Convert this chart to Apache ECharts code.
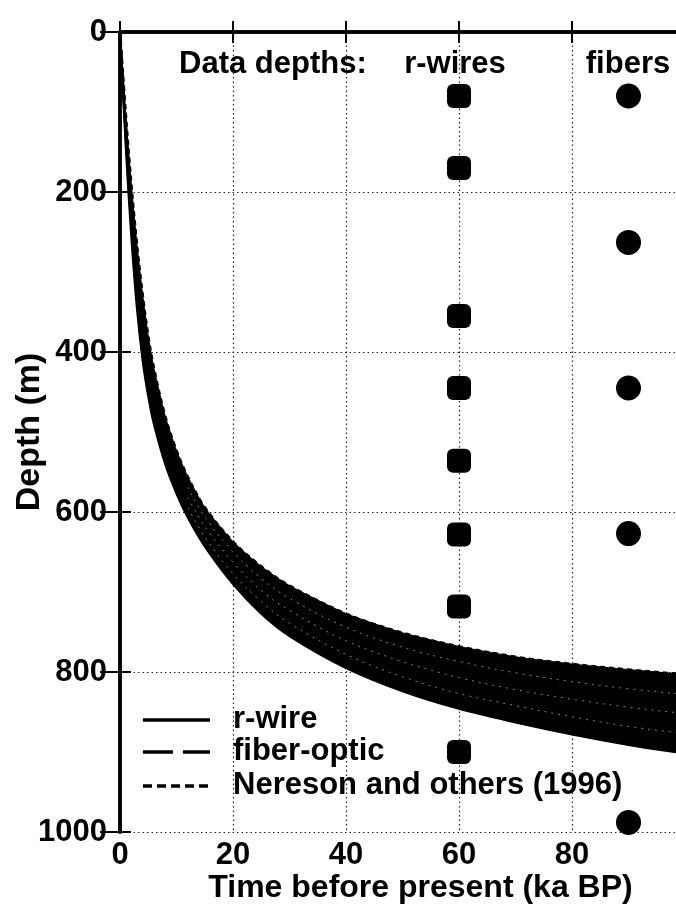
<!DOCTYPE html>
<html><head><meta charset="utf-8">
<script src="https://cdn.jsdelivr.net/npm/echarts@6/dist/echarts.min.js"></script>
<style>html,body{margin:0;padding:0;background:#fff}#c{width:676px;height:911px}</style>
</head><body><div id="c"></div>
<script>
// ---- data ----
const ages      = [0, 1, 2, 3, 4, 5, 6, 8, 10, 12, 15, 20, 25, 30, 40, 50, 60, 70, 80, 90, 100, 105];
const nereson   = [0, 100, 190, 265, 328, 380, 420, 480, 523, 556, 594, 637, 668, 692, 727, 751, 768, 781, 790, 797, 803, 806];
const fiberB    = [0, 110, 206, 285, 348, 399, 437, 495, 537, 569, 606, 650, 683, 708, 744, 769, 787, 801, 812, 821, 828, 831];
const fiberA    = [0, 120, 222, 305, 369, 418, 455, 510, 550, 582, 618, 663, 698, 723, 761, 787, 807, 822, 834, 844, 852, 856];
const rwireMid  = [0, 130, 238, 325, 390, 437, 473, 525, 564, 595, 631, 677, 712, 739, 778, 806, 827, 842, 856, 868, 877, 881];
const rwireDeep = [0, 140, 255, 345, 410, 455, 490, 540, 577, 607, 643, 690, 727, 755, 795, 824, 846, 863, 878, 891, 902, 907];

const rwireAge = 60;
const rwireDepths = [80, 170, 355, 445, 536, 628, 718, 900];
const fiberAge = 90;
const fiberDepths = [80, 263, 445, 627, 988];

const xTicks = [0, 20, 40, 60, 80];
const yTicks = [0, 200, 400, 600, 800, 1000];

const legendNames = ['r-wire', 'fiber-optic', 'Nereson and others (1996)'];
const headerTexts = ['Data depths:', 'r-wires', 'fibers'];

// ---- chart ----
const FONT = '"Liberation Sans", Arial, Helvetica, sans-serif';
const pairs = (ys, minAge) => ages.map((a, i) => [a, ys[i]]).filter(p => p[0] >= (minAge || 0));

const chart = echarts.init(document.getElementById('c'), null, {renderer: 'canvas'});

const axisLineStyle = {color: '#000', width: 3.5};
const gridDots = {type: [1.5, 3], color: '#222', width: 1.2};
const labelStyle = {color: '#000', fontFamily: FONT, fontWeight: 'bold', fontSize: 31};

const dashSolid = null, dashFiber = [30, 10], dashNereson = [9, 5];

function lineSeries(name, ys, dash, width) {
  return {
    name: name, type: 'line', data: pairs(ys), smooth: 0.35, symbol: 'none',
    xAxisIndex: 0, yAxisIndex: 0, z: 4, silent: true,
    lineStyle: {color: '#000', width: width, type: dash || 'solid'}
  };
}
function gapSeries(ys) {
  return {
    type: 'line', data: pairs(ys, 12), smooth: 0.35, symbol: 'none', z: 5, silent: true,
    lineStyle: {color: '#fff', width: 0.9, type: [2, 5], opacity: 0.55}
  };
}

// hand-drawn legend, like the original figure
const legendRowsY = [720, 752, 786];
const legendDash = [dashSolid, dashFiber, dashNereson];
const legendGraphics = [];
legendNames.forEach((nm, i) => {
  legendGraphics.push({type: 'line', shape: {x1: 143, y1: legendRowsY[i], x2: 210, y2: legendRowsY[i]},
    style: {stroke: '#000', lineWidth: 3.5, lineDash: legendDash[i]}, silent: true, z: 10});
  legendGraphics.push({type: 'text', x: 233, y: legendRowsY[i] - 1,
    style: {text: nm, fill: '#000', font: 'bold 31px ' + FONT, verticalAlign: 'middle', align: 'left'}, silent: true, z: 10});
});

const headerGraphics = [
  {type: 'text', x: 179, y: 64, style: {text: headerTexts[0], fill: '#000', font: 'bold 31px ' + FONT, verticalAlign: 'middle', align: 'left'}, z: 10},
  {type: 'text', x: 455, y: 64, style: {text: headerTexts[1], fill: '#000', font: 'bold 31px ' + FONT, verticalAlign: 'middle', align: 'center'}, z: 10},
  {type: 'text', x: 628, y: 64, style: {text: headerTexts[2], fill: '#000', font: 'bold 31px ' + FONT, verticalAlign: 'middle', align: 'center'}, z: 10}
];

const option = {
  animation: false,
  backgroundColor: '#fff',
  grid: {left: 120, top: 32, right: -9, bottom: 79, containLabel: false, outerBoundsMode: 'none'},
  xAxis: [{
    type: 'value', min: 0, max: 100, interval: 20, position: 'bottom',
    axisLine: {lineStyle: axisLineStyle},
    axisTick: {inside: true, length: 11, lineStyle: {color: '#000', width: 2}},
    axisLabel: Object.assign({margin: 8, showMaxLabel: false,
      formatter: v => xTicks.indexOf(v) >= 0 ? String(v) : ''}, labelStyle),
    splitLine: {show: true, lineStyle: gridDots},
    name: 'Time before present (ka BP)', nameLocation: 'middle', nameGap: 40, nameMoveOverlap: false,
    nameTextStyle: {color: '#000', fontFamily: FONT, fontWeight: 'bold', fontSize: 32,
      verticalAlign: 'top', padding: [0, 0, 0, 36]}
  }, {
    type: 'value', min: 0, max: 100, interval: 20, position: 'top',
    axisLine: {lineStyle: axisLineStyle},
    axisTick: {inside: true, length: 11, lineStyle: {color: '#000', width: 2}},
    axisLabel: {show: false}, splitLine: {show: false}
  }],
  yAxis: [{
    type: 'value', inverse: true, min: 0, max: 1000, interval: 200, position: 'left',
    axisLine: {lineStyle: axisLineStyle},
    axisTick: {inside: true, length: 11, lineStyle: {color: '#000', width: 2}},
    axisLabel: Object.assign({margin: 13,
      formatter: v => yTicks.indexOf(v) >= 0 ? String(v) : ''}, labelStyle),
    splitLine: {show: true, lineStyle: gridDots},
    name: 'Depth (m)', nameLocation: 'middle', nameGap: 73, nameRotate: 90, nameMoveOverlap: false,
    nameTextStyle: {color: '#000', fontFamily: FONT, fontWeight: 'bold', fontSize: 34}
  }, {
    type: 'value', inverse: true, min: 0, max: 1000, interval: 200, position: 'right',
    axisLine: {lineStyle: axisLineStyle},
    axisTick: {inside: true, length: 20, lineStyle: {color: '#000', width: 2}},
    axisLabel: {show: false}, splitLine: {show: false}
  }],
  graphic: headerGraphics.concat(legendGraphics),
  series: [
    {
      name: 'band', type: 'custom', data: [[0, 0]], z: 3, silent: true, clip: true,
      renderItem: function (params, api) {
        const top = nereson.map((d, i) => api.coord([ages[i], d]));
        const bot = rwireDeep.map((d, i) => api.coord([ages[i], d])).reverse();
        return {type: 'polygon', shape: {points: top.concat(bot), smooth: 0.2},
                style: {fill: '#000', stroke: '#000', lineWidth: 1}};
      }
    },
    lineSeries(legendNames[0], rwireDeep, dashSolid, 2.2),
    lineSeries(legendNames[0], rwireMid, dashSolid, 2),
    lineSeries(legendNames[1], fiberA, dashFiber, 2.2),
    lineSeries(legendNames[1], fiberB, dashFiber, 2),
    lineSeries(legendNames[2], nereson, [5, 4], 2.6),
    gapSeries(fiberB), gapSeries(fiberA), gapSeries(rwireMid),
    {
      name: 'r-wires', type: 'scatter', symbol: 'roundRect', symbolSize: 24, z: 6, silent: true,
      itemStyle: {color: '#000', opacity: 1},
      data: rwireDepths.map(d => [rwireAge, d])
    },
    {
      name: 'fibers', type: 'scatter', symbol: 'circle', symbolSize: 25, z: 6, silent: true,
      itemStyle: {color: '#000', opacity: 1},
      data: fiberDepths.map(d => [fiberAge, d])
    }
  ]
};
chart.setOption(option);
</script></body></html>
